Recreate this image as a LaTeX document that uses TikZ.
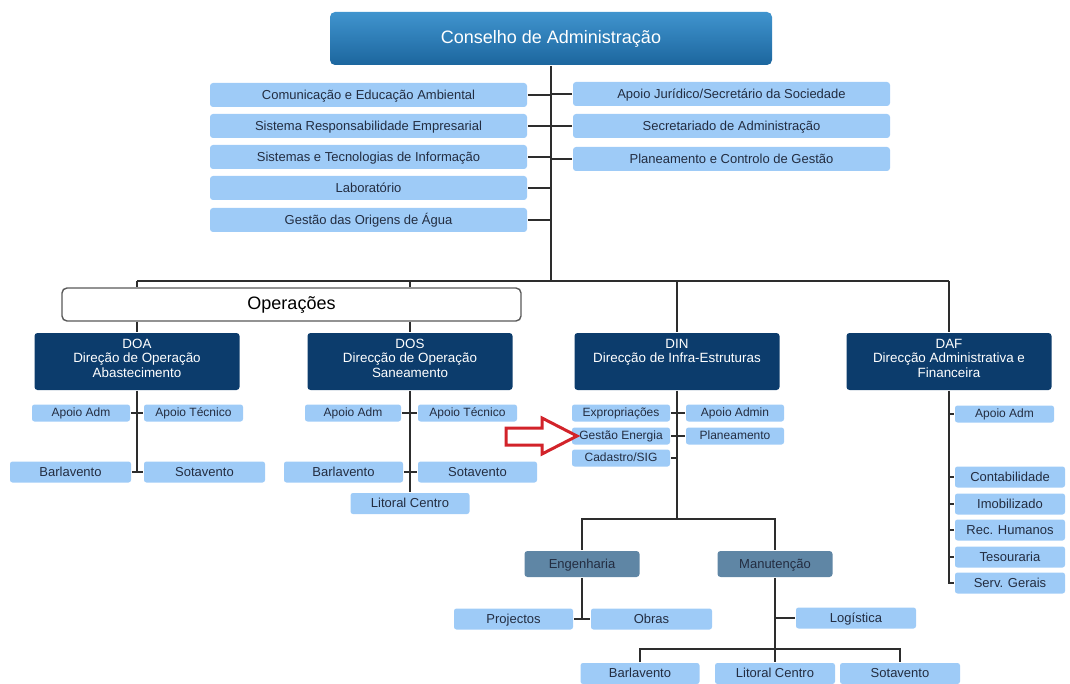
\documentclass[tikz,border=0pt]{standalone}
\usepackage{fontspec}
\setmainfont{Liberation Sans}
\definecolor{topA}{RGB}{64,148,206}
\definecolor{topB}{RGB}{28,102,158}
\definecolor{lightbox}{RGB}{158,203,247}
\definecolor{darkbox}{RGB}{12,60,108}
\definecolor{midbox}{RGB}{95,134,165}
\definecolor{boxtext}{RGB}{35,45,65}
\definecolor{linegray}{RGB}{45,45,45}
\definecolor{arrowred}{RGB}{210,35,42}
\begin{document}
\begin{tikzpicture}[x=1pt, y=-1pt, line width=1.8pt, draw=linegray,
  topbox/.style={minimum width=442pt, minimum height=53pt, inner sep=0pt, rounded corners=5pt,
    top color=topA, bottom color=topB, draw=none, text=white, font=\fontsize{18}{21}\selectfont,
    text height=14pt, text depth=3.5pt},
  staffbox/.style={fill=lightbox, draw=none, rounded corners=3pt, minimum width=317pt, minimum height=24pt,
    inner sep=0pt, text=boxtext, font=\fontsize{13}{15}\selectfont, text height=11pt, text depth=2.5pt},
  opsbox/.style={fill=white, draw=gray!70!black, line width=1.4pt, rounded corners=5pt, minimum width=459pt,
    minimum height=33pt, inner sep=0pt, font=\fontsize{18}{21}\selectfont, text height=14pt, text depth=3.5pt},
  dirbox/.style={fill=darkbox, draw=none, rounded corners=3pt, minimum width=205pt, minimum height=57pt,
    inner sep=0pt, text=white, font=\fontsize{13.4}{14.6}\selectfont},
  unitbox/.style={fill=midbox, draw=none, rounded corners=3pt, minimum width=115pt, minimum height=26pt,
    inner sep=0pt, text=boxtext, font=\fontsize{13}{15}\selectfont, text height=11pt, text depth=2.5pt},
  subbox/.style={fill=lightbox, draw=none, rounded corners=2.5pt, minimum height=21pt,
    inner sep=0pt, text=boxtext, font=\fontsize{13}{15}\selectfont, text height=11pt, text depth=2.5pt},
  small/.style={minimum height=17pt, font=\fontsize{12}{14}\selectfont, text height=10.2pt, text depth=2.3pt}]
\useasboundingbox (0,0) rectangle (1070,684);
% board and staff
\node[topbox] (P_0_0) at (551,38.5) {Conselho de Administração};
\node[staffbox] (P_1_0) at (368.5,95) {Comunicação e Educação Ambiental};
\node[staffbox] (P_1_1) at (368.5,126) {Sistema Responsabilidade Empresarial};
\node[staffbox] (P_1_2) at (368.5,157) {Sistemas e Tecnologias de Informação};
\node[staffbox] (P_1_3) at (368.5,188) {Laboratório};
\node[staffbox] (P_1_4) at (368.5,220) {Gestão das Origens de Água};
\node[staffbox] (P_1_5) at (731.5,94) {Apoio Jurídico/Secretário da Sociedade};
\node[staffbox] (P_1_6) at (731.5,126) {Secretariado de Administração};
\node[staffbox] (P_1_7) at (731.5,159) {Planeamento e Controlo de Gestão};
\coordinate (bus) at (551,281);
\draw (P_0_0.south) -- (bus);
\draw (P_1_0.east) -- (P_1_0.east -| P_0_0.south);
\draw (P_1_1.east) -- (P_1_1.east -| P_0_0.south);
\draw (P_1_2.east) -- (P_1_2.east -| P_0_0.south);
\draw (P_1_3.east) -- (P_1_3.east -| P_0_0.south);
\draw (P_1_4.east) -- (P_1_4.east -| P_0_0.south);
\draw (P_1_5.west) -- (P_1_5.west -| P_0_0.south);
\draw (P_1_6.west) -- (P_1_6.west -| P_0_0.south);
\draw (P_1_7.west) -- (P_1_7.west -| P_0_0.south);
% directorates
\node[opsbox] (P_2_0) at (291.5,304.5) {Operações};
\node[dirbox] (P_3_0) at (137,361.5) {\parbox[c][45pt][t]{200pt}{\centering DOA\\Direção de Operação\\Abastecimento}};
\node[dirbox] (P_3_1) at (410,361.5) {\parbox[c][45pt][t]{200pt}{\centering DOS\\Direcção de Operação\\Saneamento}};
\node[dirbox] (P_3_2) at (677,361.5) {\parbox[c][45pt][t]{200pt}{\centering DIN\\Direcção de Infra-Estruturas}};
\node[dirbox] (P_3_3) at (949,361.5) {\parbox[c][45pt][t]{200pt}{\centering DAF\\Direcção Administrativa e\\Financeira}};
\draw (P_3_0 |- bus) -- (P_3_3 |- bus);
\draw (P_3_0 |- bus) -- (P_3_0 |- P_2_0.north);
\draw (P_3_0 |- P_2_0.south) -- (P_3_0.north);
\draw (P_3_1 |- bus) -- (P_3_1 |- P_2_0.north);
\draw (P_3_1 |- P_2_0.south) -- (P_3_1.north);
\draw (P_3_2 |- bus) -- (P_3_2.north);
\draw (P_3_3 |- bus) -- (P_3_3.north);
% DOA
\node[subbox, small, minimum width=98pt] (P_4_0) at (81,413) {Apoio Adm};
\node[subbox, small, minimum width=99pt] (P_4_1) at (193.5,413) {Apoio Técnico};
\node[subbox, minimum width=121pt] (P_4_2) at (70.5,472) {Barlavento};
\node[subbox, minimum width=121pt] (P_4_3) at (204.5,472) {Sotavento};
\draw (P_3_0.south) -- (P_3_0.south |- P_4_2);
\draw (P_4_0) -- (P_4_1);
\draw (P_4_2) -- (P_4_3);
% DOS
\node[subbox, small, minimum width=96pt] (P_4_4) at (353,413) {Apoio Adm};
\node[subbox, small, minimum width=99pt] (P_4_5) at (467.5,413) {Apoio Técnico};
\node[subbox, minimum width=119pt] (P_4_6) at (343.5,472) {Barlavento};
\node[subbox, minimum width=119pt] (P_4_7) at (477.5,472) {Sotavento};
\node[subbox, minimum width=119pt] (P_4_8) at (410,503.5) {Litoral Centro};
\draw (P_3_1.south) -- (P_4_8.north);
\draw (P_4_4) -- (P_4_5);
\draw (P_4_6) -- (P_4_7);
% DIN
\node[subbox, small, minimum width=98pt] (P_4_9) at (621,413) {Expropriações};
\node[subbox, small, minimum width=98pt] (P_4_10) at (735,413) {Apoio Admin};
\node[subbox, small, minimum width=98pt] (P_4_11) at (621,436) {Gestão Energia};
\node[subbox, small, minimum width=98pt] (P_4_12) at (735,436) {Planeamento};
\node[subbox, small, minimum width=98pt] (P_4_13) at (621,458) {Cadastro/SIG};
\coordinate (din bus) at (677,519);
\draw (P_3_2.south) -- (din bus);
\draw (P_4_9) -- (P_4_10);
\draw (P_4_11) -- (P_4_12);
\draw (P_4_13.east) -- (P_4_13.east -| P_3_2);
\node[unitbox] (P_5_0) at (582,564) {Engenharia};
\node[unitbox] (P_5_1) at (775,564) {Manutenção};
\draw (P_5_0.north) |- (din bus) -| (P_5_1.north);
\node[subbox, minimum width=119pt] (P_6_0) at (513.5,619) {Projectos};
\node[subbox, minimum width=121pt] (P_6_1) at (651.5,619) {Obras};
\node[subbox, minimum width=120pt] (P_6_2) at (856,618) {Logística};
\draw (P_5_0.south) -- (P_5_0.south |- P_6_0);
\draw (P_6_0) -- (P_6_1);
\coordinate (man bus) at (775,649);
\draw (P_5_1.south) -- (man bus);
\draw (P_5_1.south |- P_6_2) -- (P_6_2.west);
\node[subbox, minimum width=119pt] (P_7_0) at (640,673.5) {Barlavento};
\node[subbox, minimum width=120pt] (P_7_1) at (775,673.5) {Litoral Centro};
\node[subbox, minimum width=120pt] (P_7_2) at (900,673.5) {Sotavento};
\draw (P_7_0.north) |- (man bus) -| (P_7_2.north);
\draw (man bus) -- (P_7_1.north);
% DAF
\node[subbox, small, minimum width=99pt] (P_4_14) at (1004.5,414) {Apoio Adm};
\node[subbox, minimum width=110pt] (P_4_15) at (1010,477) {Contabilidade};
\node[subbox, minimum width=110pt] (P_4_16) at (1010,504) {Imobilizado};
\node[subbox, minimum width=110pt] (P_4_17) at (1010,530) {Rec. Humanos};
\node[subbox, minimum width=110pt] (P_4_18) at (1010,557) {Tesouraria};
\node[subbox, minimum width=110pt] (P_4_19) at (1010,583) {Serv. Gerais};
\draw (P_3_3.south) |- (P_4_19.west);
\draw (P_3_3.south |- P_4_14) -- (P_4_14.west);
\draw (P_3_3.south |- P_4_15) -- (P_4_15.west);
\draw (P_3_3.south |- P_4_16) -- (P_4_16.west);
\draw (P_3_3.south |- P_4_17) -- (P_4_17.west);
\draw (P_3_3.south |- P_4_18) -- (P_4_18.west);
% red pointer
\draw[arrowred, fill=white, line width=3pt, line join=miter]
  (506,428) -- (542,428) -- (542,418) -- (577,436) -- (542,454) -- (542,445) -- (506,445) -- cycle;
\end{tikzpicture}
\end{document}
